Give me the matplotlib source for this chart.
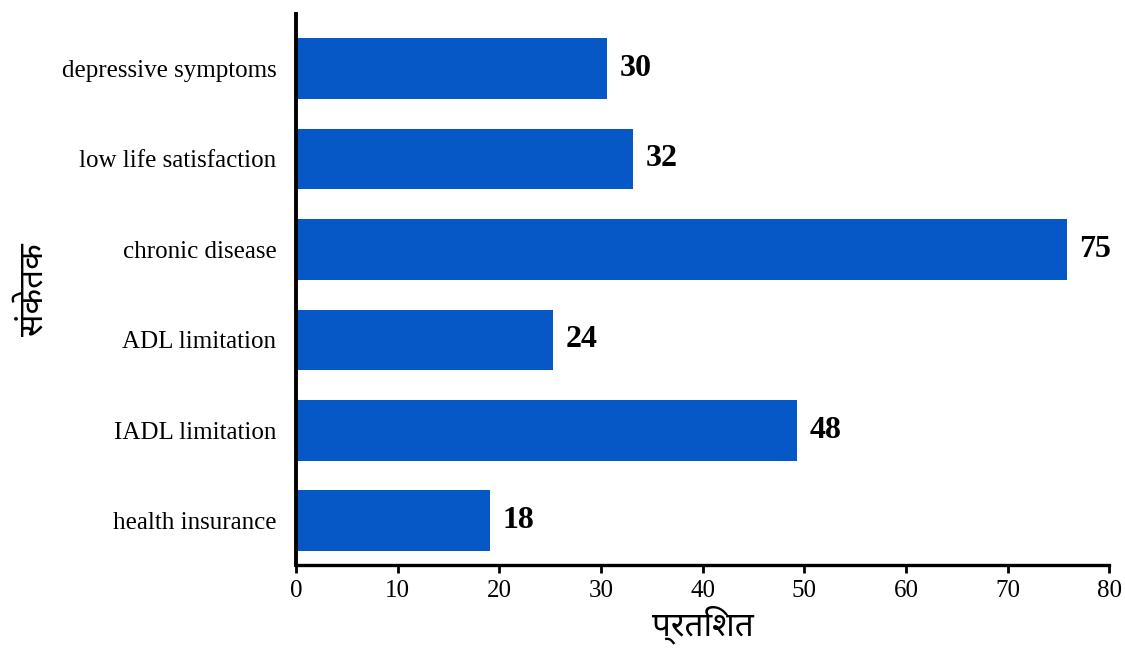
import matplotlib
matplotlib.use("Agg")
from matplotlib import pyplot as plt
from matplotlib import font_manager

categories = ["health insurance", "IADL limitation", "ADL limitation",
              "chronic disease", "low life satisfaction", "depressive symptoms"]
bar_values = [19.1, 49.3, 25.3, 75.8, 33.2, 30.6]
bar_labels = ["18", "48", "24", "75", "32", "30"]
x_ticks = [0, 10, 20, 30, 40, 50, 60, 70, 80]
x_title = "प्रतिशत"
y_title = "संकेतक"

# pick an installed font with Devanagari glyphs, bold if possible
installed = {f.name for f in font_manager.fontManager.ttflist}
deva_family = [name for name in ("Noto Sans Devanagari", "FreeSans", "FreeSerif")
               if name in installed] + ["DejaVu Sans"]

plt.rcParams["font.family"] = ["Liberation Serif", "DejaVu Serif"]

fig = plt.figure(figsize=(11.25, 6.48), dpi=100)
ax = fig.add_axes([0.263, 0.128, 0.723, 0.850])

pos = list(range(len(categories)))
ax.barh(pos, bar_values, height=0.67, color="#0658c6")
for p, v, lab in zip(pos, bar_values, bar_labels):
    ax.text(v + 1.2, p, lab, va="center", ha="left",
            fontsize=23, fontweight="bold")

ax.set_xlim(0, 80)
ax.set_ylim(-0.49, 5.6)
ax.set_xticks(x_ticks)
ax.set_yticks(pos)
ax.set_yticklabels(categories)
ax.tick_params(axis="y", length=0, pad=14, labelsize=18)
ax.tick_params(axis="x", length=6, width=2, pad=5, labelsize=18, direction="out")

for side in ("top", "right"):
    ax.spines[side].set_visible(False)
ax.spines["left"].set_linewidth(2.8)
ax.spines["bottom"].set_linewidth(2.4)

ax.set_xlabel(x_title, fontsize=24, fontweight="bold", family=deva_family, labelpad=2)
ax.set_ylabel(y_title, fontsize=24, fontweight="bold", family=deva_family, labelpad=8)

fig.savefig("out.png", dpi=100)
